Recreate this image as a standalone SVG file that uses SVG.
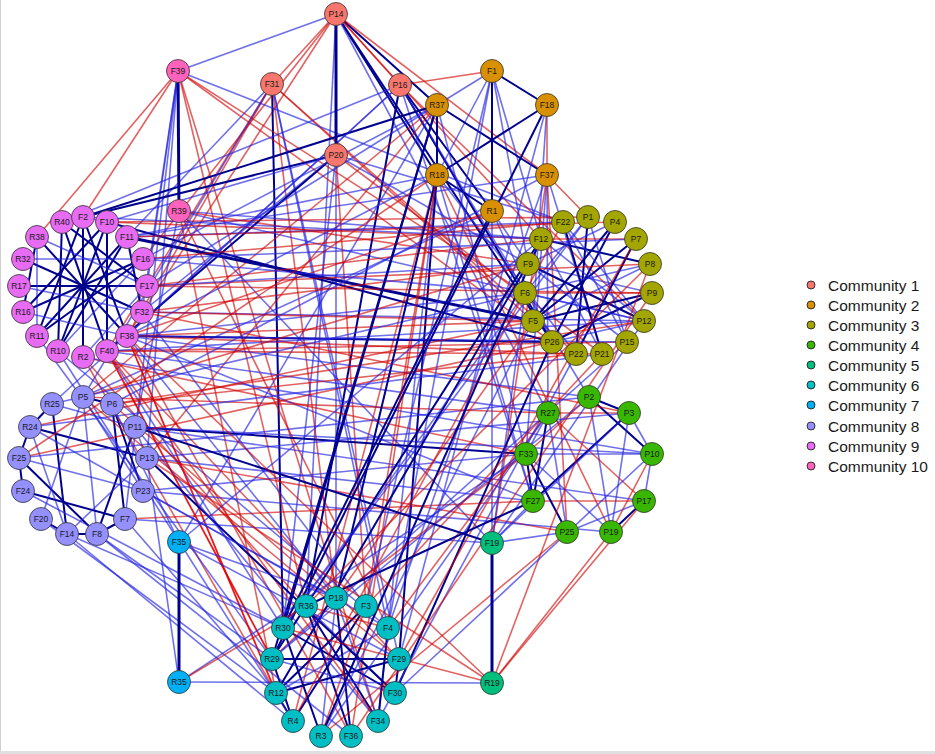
<svg xmlns="http://www.w3.org/2000/svg" width="935" height="754" viewBox="0 0 935 754">
<style>
.b{stroke:#2424e0;stroke-opacity:.65;stroke-width:1.6;fill:none}
.n{stroke:#00008f;stroke-width:2;fill:none}
.nt{stroke:#00008f;stroke-width:3;fill:none}
.r{stroke:#d00000;stroke-opacity:.62;stroke-width:1.6;fill:none}
.rr{stroke:#e80000;stroke-opacity:.9;stroke-width:1.8;fill:none}
.nd circle{stroke:#333;stroke-width:.8}
.nd text{font-family:"Liberation Sans",Arial,sans-serif;font-size:8.5px;fill:#1a1a1a;text-anchor:middle;dominant-baseline:central}
.c1 circle{fill:#F8766D}.c2 circle{fill:#D89000}.c3 circle{fill:#A3A500}.c4 circle{fill:#39B600}.c5 circle{fill:#00BF7D}
.c6 circle{fill:#00BFC4}.c7 circle{fill:#00B0F6}.c8 circle{fill:#9590FF}.c9 circle{fill:#E76BF3}.c10 circle{fill:#FF62BC}
.lg circle{stroke:#222;stroke-width:.9}
.lg text{font-family:"Liberation Sans",Arial,sans-serif;font-size:15.5px;fill:#1a1a1a}
</style>
<rect width="935" height="754" fill="#fff"/>
<line x1="0.5" y1="0" x2="0.5" y2="754" stroke="#d0d0d0"/>
<line x1="0" y1="752.5" x2="935" y2="752.5" stroke="#e0e0e0" stroke-width="3"/>
<g id="edges">
<line class="b" x1="336" y1="14" x2="178" y2="71"/>
<line class="r" x1="336" y1="14" x2="272" y2="84"/>
<line class="r" x1="336" y1="14" x2="400" y2="85"/>
<line class="n" x1="336" y1="14" x2="437" y2="105"/>
<line class="n" x1="336" y1="14" x2="437" y2="175"/>
<line class="r" x1="336" y1="14" x2="547" y2="175"/>
<line class="r" x1="336" y1="14" x2="127" y2="336"/>
<line class="r" x1="336" y1="14" x2="143" y2="259"/>
<line class="n" x1="336" y1="14" x2="552" y2="342"/>
<line class="r" x1="336" y1="14" x2="541" y2="239"/>
<line class="b" x1="336" y1="14" x2="548" y2="413"/>
<line class="b" x1="336" y1="14" x2="336" y2="598"/>
<line class="b" x1="336" y1="14" x2="306" y2="606"/>
<line class="b" x1="272" y1="84" x2="127" y2="237"/>
<line class="r" x1="272" y1="84" x2="127" y2="336"/>
<line class="r" x1="272" y1="84" x2="107" y2="351"/>
<line class="n" x1="272" y1="84" x2="283" y2="628"/>
<line class="r" x1="272" y1="84" x2="336" y2="598"/>
<line class="r" x1="272" y1="84" x2="533" y2="321"/>
<line class="r" x1="272" y1="84" x2="576" y2="354"/>
<line class="b" x1="272" y1="84" x2="399" y2="659"/>
<line class="b" x1="272" y1="84" x2="388" y2="628"/>
<line class="b" x1="178" y1="71" x2="147" y2="286"/>
<line class="b" x1="178" y1="71" x2="142" y2="312"/>
<line class="r" x1="178" y1="71" x2="83" y2="217"/>
<line class="r" x1="178" y1="71" x2="552" y2="342"/>
<line class="r" x1="178" y1="71" x2="525" y2="293"/>
<line class="b" x1="178" y1="71" x2="125" y2="519"/>
<line class="b" x1="178" y1="71" x2="147" y2="458"/>
<line class="r" x1="178" y1="71" x2="306" y2="606"/>
<line class="b" x1="178" y1="71" x2="563" y2="222"/>
<line class="r" x1="178" y1="71" x2="378" y2="721"/>
<line class="b" x1="179" y1="211" x2="541" y2="239"/>
<line class="r" x1="179" y1="211" x2="528" y2="264"/>
<line class="b" x1="179" y1="211" x2="644" y2="321"/>
<line class="r" x1="179" y1="211" x2="276" y2="693"/>
<line class="b" x1="179" y1="211" x2="492" y2="543"/>
<line class="r" x1="179" y1="211" x2="388" y2="628"/>
<line class="b" x1="179" y1="211" x2="135" y2="427"/>
<line class="r" x1="400" y1="85" x2="492" y2="71"/>
<line class="n" x1="400" y1="85" x2="492" y2="211"/>
<line class="n" x1="400" y1="85" x2="552" y2="342"/>
<line class="b" x1="400" y1="85" x2="533" y2="501"/>
<line class="b" x1="400" y1="85" x2="589" y2="397"/>
<line class="n" x1="400" y1="85" x2="306" y2="606"/>
<line class="b" x1="400" y1="85" x2="127" y2="336"/>
<line class="b" x1="400" y1="85" x2="62" y2="222"/>
<line class="r" x1="400" y1="85" x2="644" y2="321"/>
<line class="b" x1="336" y1="155" x2="142" y2="312"/>
<line class="n" x1="336" y1="155" x2="107" y2="351"/>
<line class="b" x1="336" y1="155" x2="283" y2="628"/>
<line class="r" x1="336" y1="155" x2="366" y2="606"/>
<line class="b" x1="336" y1="155" x2="563" y2="222"/>
<line class="b" x1="336" y1="155" x2="528" y2="264"/>
<line class="r" x1="336" y1="155" x2="602" y2="354"/>
<line class="b" x1="492" y1="71" x2="437" y2="105"/>
<line class="n" x1="492" y1="71" x2="547" y2="105"/>
<line class="n" x1="492" y1="71" x2="492" y2="211"/>
<line class="b" x1="492" y1="71" x2="541" y2="239"/>
<line class="b" x1="492" y1="71" x2="528" y2="264"/>
<line class="b" x1="492" y1="71" x2="437" y2="175"/>
<line class="n" x1="547" y1="105" x2="437" y2="175"/>
<line class="r" x1="547" y1="105" x2="547" y2="175"/>
<line class="b" x1="547" y1="105" x2="533" y2="321"/>
<line class="n" x1="437" y1="105" x2="437" y2="175"/>
<line class="n" x1="437" y1="105" x2="547" y2="175"/>
<line class="b" x1="437" y1="105" x2="147" y2="286"/>
<line class="b" x1="437" y1="105" x2="143" y2="259"/>
<line class="r" x1="437" y1="105" x2="147" y2="458"/>
<line class="b" x1="437" y1="105" x2="179" y2="542"/>
<line class="n" x1="437" y1="105" x2="272" y2="659"/>
<line class="b" x1="437" y1="105" x2="526" y2="454"/>
<line class="r" x1="437" y1="105" x2="83" y2="397"/>
<line class="n" x1="437" y1="175" x2="492" y2="211"/>
<line class="b" x1="437" y1="175" x2="127" y2="336"/>
<line class="b" x1="437" y1="175" x2="533" y2="501"/>
<line class="b" x1="437" y1="175" x2="576" y2="354"/>
<line class="r" x1="437" y1="175" x2="351" y2="736"/>
<line class="r" x1="437" y1="175" x2="611" y2="532"/>
<line class="b" x1="437" y1="175" x2="378" y2="721"/>
<line class="r" x1="437" y1="175" x2="293" y2="721"/>
<line class="n" x1="437" y1="175" x2="399" y2="659"/>
<line class="r" x1="547" y1="175" x2="588" y2="217"/>
<line class="b" x1="547" y1="175" x2="127" y2="237"/>
<line class="b" x1="547" y1="175" x2="548" y2="413"/>
<line class="b" x1="547" y1="175" x2="602" y2="354"/>
<line class="r" x1="547" y1="175" x2="567" y2="532"/>
<line class="b" x1="547" y1="175" x2="526" y2="454"/>
<line class="b" x1="492" y1="211" x2="552" y2="342"/>
<line class="b" x1="492" y1="211" x2="528" y2="264"/>
<line class="b" x1="492" y1="211" x2="83" y2="397"/>
<line class="r" x1="492" y1="211" x2="127" y2="336"/>
<line class="nt" x1="127" y1="237" x2="533" y2="321"/>
<line class="n" x1="107" y1="222" x2="552" y2="342"/>
<line class="n" x1="62" y1="222" x2="107" y2="351"/>
<line class="n" x1="83" y1="217" x2="83" y2="357"/>
<line class="n" x1="107" y1="222" x2="58" y2="351"/>
<line class="n" x1="127" y1="237" x2="37" y2="336"/>
<line class="n" x1="143" y1="259" x2="23" y2="312"/>
<line class="n" x1="147" y1="286" x2="19" y2="286"/>
<line class="n" x1="142" y1="312" x2="23" y2="259"/>
<line class="n" x1="127" y1="336" x2="37" y2="237"/>
<line class="n" x1="62" y1="222" x2="58" y2="351"/>
<line class="b" x1="37" y1="237" x2="37" y2="336"/>
<line class="n" x1="107" y1="222" x2="107" y2="351"/>
<line class="n" x1="83" y1="217" x2="127" y2="336"/>
<line class="n" x1="62" y1="222" x2="147" y2="286"/>
<line class="n" x1="83" y1="217" x2="37" y2="336"/>
<line class="n" x1="107" y1="222" x2="23" y2="312"/>
<line class="n" x1="127" y1="237" x2="58" y2="351"/>
<line class="b" x1="37" y1="237" x2="147" y2="286"/>
<line class="b" x1="19" y1="286" x2="142" y2="312"/>
<line class="b" x1="23" y1="312" x2="127" y2="336"/>
<line class="n" x1="143" y1="259" x2="37" y2="336"/>
<line class="b" x1="23" y1="259" x2="143" y2="259"/>
<line class="b" x1="62" y1="222" x2="83" y2="217"/>
<line class="b" x1="83" y1="217" x2="107" y2="222"/>
<line class="n" x1="37" y1="237" x2="23" y2="312"/>
<line class="n" x1="127" y1="237" x2="142" y2="312"/>
<line class="b" x1="83" y1="357" x2="147" y2="286"/>
<line class="b" x1="58" y1="351" x2="143" y2="259"/>
<line class="n" x1="541" y1="239" x2="650" y2="264"/>
<line class="b" x1="528" y1="264" x2="652" y2="293"/>
<line class="r" x1="525" y1="293" x2="652" y2="293"/>
<line class="n" x1="533" y1="321" x2="636" y2="239"/>
<line class="n" x1="552" y1="342" x2="615" y2="222"/>
<line class="b" x1="563" y1="222" x2="627" y2="342"/>
<line class="n" x1="588" y1="217" x2="576" y2="354"/>
<line class="b" x1="541" y1="239" x2="602" y2="354"/>
<line class="n" x1="528" y1="264" x2="644" y2="321"/>
<line class="b" x1="650" y1="264" x2="533" y2="321"/>
<line class="n" x1="652" y1="293" x2="552" y2="342"/>
<line class="b" x1="644" y1="321" x2="525" y2="293"/>
<line class="b" x1="627" y1="342" x2="528" y2="264"/>
<line class="b" x1="563" y1="222" x2="644" y2="321"/>
<line class="b" x1="588" y1="217" x2="627" y2="342"/>
<line class="n" x1="636" y1="239" x2="576" y2="354"/>
<line class="b" x1="650" y1="264" x2="525" y2="293"/>
<line class="b" x1="541" y1="239" x2="644" y2="321"/>
<line class="n" x1="563" y1="222" x2="602" y2="354"/>
<line class="b" x1="615" y1="222" x2="528" y2="264"/>
<line class="r" x1="541" y1="239" x2="636" y2="239"/>
<line class="n" x1="615" y1="222" x2="533" y2="321"/>
<line class="b" x1="588" y1="217" x2="525" y2="293"/>
<line class="n" x1="652" y1="293" x2="533" y2="321"/>
<line class="b" x1="644" y1="321" x2="552" y2="342"/>
<line class="r" x1="548" y1="413" x2="629" y2="413"/>
<line class="n" x1="589" y1="397" x2="629" y2="413"/>
<line class="n" x1="589" y1="397" x2="652" y2="454"/>
<line class="b" x1="629" y1="413" x2="652" y2="454"/>
<line class="n" x1="629" y1="413" x2="533" y2="501"/>
<line class="b" x1="526" y1="454" x2="652" y2="454"/>
<line class="n" x1="526" y1="454" x2="533" y2="501"/>
<line class="n" x1="548" y1="413" x2="533" y2="501"/>
<line class="b" x1="548" y1="413" x2="567" y2="532"/>
<line class="b" x1="567" y1="532" x2="644" y2="501"/>
<line class="n" x1="611" y1="532" x2="644" y2="501"/>
<line class="b" x1="644" y1="501" x2="652" y2="454"/>
<line class="b" x1="629" y1="413" x2="611" y2="532"/>
<line class="b" x1="589" y1="397" x2="611" y2="532"/>
<line class="r" x1="548" y1="413" x2="644" y2="501"/>
<line class="b" x1="526" y1="454" x2="611" y2="532"/>
<line class="r" x1="533" y1="501" x2="644" y2="501"/>
<line class="n" x1="526" y1="454" x2="567" y2="532"/>
<line class="r" x1="652" y1="454" x2="611" y2="532"/>
<line class="r" x1="589" y1="397" x2="526" y2="454"/>
<line class="b" x1="548" y1="413" x2="526" y2="454"/>
<line class="n" x1="272" y1="659" x2="399" y2="659"/>
<line class="n" x1="283" y1="628" x2="395" y2="693"/>
<line class="n" x1="306" y1="606" x2="378" y2="721"/>
<line class="b" x1="336" y1="598" x2="321" y2="736"/>
<line class="n" x1="366" y1="606" x2="293" y2="721"/>
<line class="n" x1="306" y1="606" x2="351" y2="736"/>
<line class="n" x1="283" y1="628" x2="321" y2="736"/>
<line class="b" x1="388" y1="628" x2="276" y2="693"/>
<line class="n" x1="399" y1="659" x2="276" y2="693"/>
<line class="b" x1="272" y1="659" x2="395" y2="693"/>
<line class="n" x1="336" y1="598" x2="351" y2="736"/>
<line class="n" x1="366" y1="606" x2="276" y2="693"/>
<line class="b" x1="306" y1="606" x2="395" y2="693"/>
<line class="n" x1="388" y1="628" x2="378" y2="721"/>
<line class="n" x1="272" y1="659" x2="293" y2="721"/>
<line class="b" x1="336" y1="598" x2="378" y2="721"/>
<line class="r" x1="306" y1="606" x2="388" y2="628"/>
<line class="r" x1="366" y1="606" x2="321" y2="736"/>
<line class="n" x1="399" y1="659" x2="395" y2="693"/>
<line class="n" x1="276" y1="693" x2="293" y2="721"/>
<line class="r" x1="336" y1="598" x2="272" y2="659"/>
<line class="b" x1="179" y1="682" x2="492" y2="683"/>
<line class="n" x1="52" y1="404" x2="67" y2="534"/>
<line class="b" x1="83" y1="397" x2="97" y2="534"/>
<line class="n" x1="112" y1="404" x2="125" y2="519"/>
<line class="n" x1="30" y1="427" x2="147" y2="458"/>
<line class="n" x1="135" y1="427" x2="97" y2="534"/>
<line class="b" x1="19" y1="458" x2="143" y2="491"/>
<line class="n" x1="19" y1="458" x2="97" y2="534"/>
<line class="n" x1="23" y1="491" x2="125" y2="519"/>
<line class="n" x1="30" y1="427" x2="19" y2="458"/>
<line class="n" x1="19" y1="458" x2="23" y2="491"/>
<line class="n" x1="112" y1="404" x2="143" y2="491"/>
<line class="b" x1="83" y1="397" x2="143" y2="491"/>
<line class="n" x1="52" y1="404" x2="30" y2="427"/>
<line class="n" x1="41" y1="519" x2="67" y2="534"/>
<line class="n" x1="67" y1="534" x2="97" y2="534"/>
<line class="n" x1="125" y1="519" x2="97" y2="534"/>
<line class="b" x1="135" y1="427" x2="147" y2="458"/>
<line class="b" x1="41" y1="519" x2="83" y2="397"/>
<line class="b" x1="52" y1="404" x2="135" y2="427"/>
<line class="b" x1="30" y1="427" x2="67" y2="534"/>
<line class="n" x1="83" y1="397" x2="112" y2="404"/>
<line class="b" x1="147" y1="458" x2="67" y2="534"/>
<line class="n" x1="127" y1="336" x2="552" y2="342"/>
<line class="r" x1="127" y1="336" x2="533" y2="321"/>
<line class="b" x1="127" y1="336" x2="525" y2="293"/>
<line class="r" x1="127" y1="336" x2="576" y2="354"/>
<line class="r" x1="142" y1="312" x2="528" y2="264"/>
<line class="b" x1="142" y1="312" x2="644" y2="321"/>
<line class="r" x1="147" y1="286" x2="541" y2="239"/>
<line class="r" x1="147" y1="286" x2="650" y2="264"/>
<line class="r" x1="143" y1="259" x2="563" y2="222"/>
<line class="b" x1="143" y1="259" x2="636" y2="239"/>
<line class="r" x1="107" y1="351" x2="602" y2="354"/>
<line class="r" x1="107" y1="351" x2="627" y2="342"/>
<line class="r" x1="83" y1="357" x2="526" y2="454"/>
<line class="b" x1="107" y1="351" x2="548" y2="413"/>
<line class="b" x1="127" y1="336" x2="589" y2="397"/>
<line class="r" x1="142" y1="312" x2="629" y2="413"/>
<line class="b" x1="147" y1="286" x2="528" y2="264"/>
<line class="r" x1="107" y1="222" x2="541" y2="239"/>
<line class="r" x1="107" y1="222" x2="588" y2="217"/>
<line class="b" x1="127" y1="237" x2="563" y2="222"/>
<line class="b" x1="143" y1="259" x2="525" y2="293"/>
<line class="r" x1="147" y1="286" x2="652" y2="293"/>
<line class="r" x1="142" y1="312" x2="533" y2="321"/>
<line class="b" x1="127" y1="336" x2="627" y2="342"/>
<line class="b" x1="107" y1="351" x2="644" y2="321"/>
<line class="b" x1="127" y1="336" x2="533" y2="501"/>
<line class="b" x1="83" y1="357" x2="652" y2="454"/>
<line class="r" x1="127" y1="237" x2="615" y2="222"/>
<line class="b" x1="83" y1="217" x2="541" y2="239"/>
<line class="b" x1="107" y1="351" x2="283" y2="628"/>
<line class="r" x1="83" y1="357" x2="306" y2="606"/>
<line class="r" x1="107" y1="351" x2="399" y2="659"/>
<line class="b" x1="127" y1="336" x2="336" y2="598"/>
<line class="r" x1="83" y1="357" x2="276" y2="693"/>
<line class="b" x1="58" y1="351" x2="388" y2="628"/>
<line class="r" x1="127" y1="336" x2="351" y2="736"/>
<line class="b" x1="142" y1="312" x2="366" y2="606"/>
<line class="r" x1="107" y1="351" x2="378" y2="721"/>
<line class="b" x1="37" y1="336" x2="272" y2="659"/>
<line class="b" x1="58" y1="351" x2="293" y2="721"/>
<line class="rr" x1="127" y1="336" x2="276" y2="693"/>
<line class="rr" x1="107" y1="351" x2="272" y2="659"/>
<line class="r" x1="37" y1="237" x2="178" y2="71"/>
<line class="n" x1="83" y1="217" x2="336" y2="155"/>
<line class="b" x1="107" y1="222" x2="336" y2="155"/>
<line class="n" x1="83" y1="217" x2="437" y2="105"/>
<line class="b" x1="127" y1="237" x2="437" y2="175"/>
<line class="r" x1="83" y1="397" x2="528" y2="264"/>
<line class="r" x1="112" y1="404" x2="644" y2="321"/>
<line class="n" x1="135" y1="427" x2="526" y2="454"/>
<line class="b" x1="147" y1="458" x2="533" y2="501"/>
<line class="b" x1="135" y1="427" x2="652" y2="454"/>
<line class="r" x1="30" y1="427" x2="533" y2="321"/>
<line class="r" x1="19" y1="458" x2="552" y2="342"/>
<line class="b" x1="52" y1="404" x2="525" y2="293"/>
<line class="b" x1="143" y1="491" x2="526" y2="454"/>
<line class="b" x1="125" y1="519" x2="492" y2="543"/>
<line class="r" x1="147" y1="458" x2="567" y2="532"/>
<line class="b" x1="135" y1="427" x2="644" y2="501"/>
<line class="b" x1="19" y1="458" x2="589" y2="397"/>
<line class="r" x1="112" y1="404" x2="576" y2="354"/>
<line class="r" x1="83" y1="397" x2="548" y2="413"/>
<line class="b" x1="147" y1="458" x2="629" y2="413"/>
<line class="r" x1="125" y1="519" x2="533" y2="501"/>
<line class="b" x1="143" y1="491" x2="611" y2="532"/>
<line class="b" x1="30" y1="427" x2="602" y2="354"/>
<line class="b" x1="67" y1="534" x2="283" y2="628"/>
<line class="b" x1="97" y1="534" x2="272" y2="659"/>
<line class="b" x1="125" y1="519" x2="276" y2="693"/>
<line class="b" x1="143" y1="491" x2="336" y2="598"/>
<line class="b" x1="23" y1="491" x2="283" y2="628"/>
<line class="b" x1="41" y1="519" x2="276" y2="693"/>
<line class="b" x1="97" y1="534" x2="351" y2="736"/>
<line class="n" x1="147" y1="458" x2="395" y2="693"/>
<line class="b" x1="135" y1="427" x2="378" y2="721"/>
<line class="b" x1="67" y1="534" x2="293" y2="721"/>
<line class="r" x1="112" y1="404" x2="336" y2="598"/>
<line class="r" x1="83" y1="397" x2="399" y2="659"/>
<line class="b" x1="30" y1="427" x2="388" y2="628"/>
<line class="b" x1="83" y1="397" x2="272" y2="84"/>
<line class="b" x1="52" y1="404" x2="400" y2="85"/>
<line class="b" x1="112" y1="404" x2="547" y2="175"/>
<line class="r" x1="19" y1="458" x2="437" y2="175"/>
<line class="n" x1="437" y1="175" x2="336" y2="598"/>
<line class="n" x1="437" y1="105" x2="283" y2="628"/>
<line class="b" x1="492" y1="71" x2="388" y2="628"/>
<line class="b" x1="547" y1="105" x2="399" y2="659"/>
<line class="r" x1="547" y1="175" x2="492" y2="543"/>
<line class="b" x1="492" y1="211" x2="492" y2="683"/>
<line class="n" x1="547" y1="105" x2="272" y2="659"/>
<line class="n" x1="492" y1="211" x2="283" y2="628"/>
<line class="b" x1="547" y1="175" x2="388" y2="628"/>
<line class="b" x1="492" y1="71" x2="366" y2="606"/>
<line class="r" x1="437" y1="175" x2="366" y2="606"/>
<line class="n" x1="541" y1="239" x2="272" y2="659"/>
<line class="n" x1="528" y1="264" x2="276" y2="693"/>
<line class="b" x1="525" y1="293" x2="283" y2="628"/>
<line class="b" x1="533" y1="321" x2="321" y2="736"/>
<line class="n" x1="552" y1="342" x2="395" y2="693"/>
<line class="b" x1="576" y1="354" x2="378" y2="721"/>
<line class="b" x1="644" y1="321" x2="492" y2="543"/>
<line class="r" x1="650" y1="264" x2="306" y2="606"/>
<line class="r" x1="563" y1="222" x2="293" y2="721"/>
<line class="b" x1="588" y1="217" x2="283" y2="628"/>
<line class="r" x1="636" y1="239" x2="399" y2="659"/>
<line class="r" x1="652" y1="293" x2="351" y2="736"/>
<line class="b" x1="525" y1="293" x2="492" y2="543"/>
<line class="r" x1="533" y1="321" x2="336" y2="598"/>
<line class="b" x1="627" y1="342" x2="272" y2="659"/>
<line class="r" x1="602" y1="354" x2="366" y2="606"/>
<line class="n" x1="541" y1="239" x2="321" y2="736"/>
<line class="r" x1="650" y1="264" x2="492" y2="683"/>
<line class="b" x1="533" y1="501" x2="492" y2="543"/>
<line class="b" x1="526" y1="454" x2="179" y2="682"/>
<line class="b" x1="567" y1="532" x2="492" y2="543"/>
<line class="r" x1="548" y1="413" x2="388" y2="628"/>
<line class="r" x1="644" y1="501" x2="492" y2="683"/>
<line class="r" x1="611" y1="532" x2="492" y2="683"/>
<line class="b" x1="629" y1="413" x2="492" y2="543"/>
<line class="r" x1="526" y1="454" x2="336" y2="598"/>
<line class="n" x1="533" y1="501" x2="306" y2="606"/>
<line class="b" x1="652" y1="454" x2="395" y2="693"/>
<line class="b" x1="548" y1="413" x2="321" y2="736"/>
<line class="b" x1="589" y1="397" x2="272" y2="659"/>
<line class="r" x1="567" y1="532" x2="321" y2="736"/>
<line class="b" x1="179" y1="542" x2="399" y2="659"/>
<line class="b" x1="179" y1="542" x2="336" y2="598"/>
<line class="b" x1="179" y1="682" x2="147" y2="458"/>
<line class="r" x1="179" y1="682" x2="306" y2="606"/>
<line class="n" x1="135" y1="427" x2="492" y2="543"/>
<line class="b" x1="179" y1="542" x2="541" y2="239"/>
<line class="r" x1="492" y1="683" x2="127" y2="336"/>
<line class="r" x1="492" y1="683" x2="283" y2="628"/>
<line class="r" x1="492" y1="683" x2="147" y2="458"/>
<line class="b" x1="179" y1="542" x2="112" y2="404"/>
<line class="nt" x1="336" y1="14" x2="336" y2="155"/>
<line class="nt" x1="178" y1="71" x2="179" y2="211"/>
<line class="nt" x1="179" y1="542" x2="179" y2="682"/>
<line class="nt" x1="492" y1="543" x2="492" y2="683"/>
</g>
<g id="nodes">
<g id="P14" class="nd c1"><circle cx="336" cy="14" r="11.5"/><text x="336" y="14">P14</text></g>
<g id="F31" class="nd c1"><circle cx="272" cy="84" r="11.5"/><text x="272" y="84">F31</text></g>
<g id="P16" class="nd c1"><circle cx="400" cy="85" r="11.5"/><text x="400" y="85">P16</text></g>
<g id="P20" class="nd c1"><circle cx="336" cy="155" r="11.5"/><text x="336" y="155">P20</text></g>
<g id="F1" class="nd c2"><circle cx="492" cy="71" r="11.5"/><text x="492" y="71">F1</text></g>
<g id="R37" class="nd c2"><circle cx="437" cy="105" r="11.5"/><text x="437" y="105">R37</text></g>
<g id="F18" class="nd c2"><circle cx="547" cy="105" r="11.5"/><text x="547" y="105">F18</text></g>
<g id="R18" class="nd c2"><circle cx="437" cy="175" r="11.5"/><text x="437" y="175">R18</text></g>
<g id="F37" class="nd c2"><circle cx="547" cy="175" r="11.5"/><text x="547" y="175">F37</text></g>
<g id="R1" class="nd c2"><circle cx="492" cy="211" r="11.5"/><text x="492" y="211">R1</text></g>
<g id="F22" class="nd c3"><circle cx="563" cy="222" r="11.5"/><text x="563" y="222">F22</text></g>
<g id="P1" class="nd c3"><circle cx="588" cy="217" r="11.5"/><text x="588" y="217">P1</text></g>
<g id="P4" class="nd c3"><circle cx="615" cy="222" r="11.5"/><text x="615" y="222">P4</text></g>
<g id="P7" class="nd c3"><circle cx="636" cy="239" r="11.5"/><text x="636" y="239">P7</text></g>
<g id="P8" class="nd c3"><circle cx="650" cy="264" r="11.5"/><text x="650" y="264">P8</text></g>
<g id="P9" class="nd c3"><circle cx="652" cy="293" r="11.5"/><text x="652" y="293">P9</text></g>
<g id="P12" class="nd c3"><circle cx="644" cy="321" r="11.5"/><text x="644" y="321">P12</text></g>
<g id="P15" class="nd c3"><circle cx="627" cy="342" r="11.5"/><text x="627" y="342">P15</text></g>
<g id="P21" class="nd c3"><circle cx="602" cy="354" r="11.5"/><text x="602" y="354">P21</text></g>
<g id="P22" class="nd c3"><circle cx="576" cy="354" r="11.5"/><text x="576" y="354">P22</text></g>
<g id="P26" class="nd c3"><circle cx="552" cy="342" r="11.5"/><text x="552" y="342">P26</text></g>
<g id="F5" class="nd c3"><circle cx="533" cy="321" r="11.5"/><text x="533" y="321">F5</text></g>
<g id="F6" class="nd c3"><circle cx="525" cy="293" r="11.5"/><text x="525" y="293">F6</text></g>
<g id="F9" class="nd c3"><circle cx="528" cy="264" r="11.5"/><text x="528" y="264">F9</text></g>
<g id="F12" class="nd c3"><circle cx="541" cy="239" r="11.5"/><text x="541" y="239">F12</text></g>
<g id="P2" class="nd c4"><circle cx="589" cy="397" r="11.5"/><text x="589" y="397">P2</text></g>
<g id="R27" class="nd c4"><circle cx="548" cy="413" r="11.5"/><text x="548" y="413">R27</text></g>
<g id="P3" class="nd c4"><circle cx="629" cy="413" r="11.5"/><text x="629" y="413">P3</text></g>
<g id="F33" class="nd c4"><circle cx="526" cy="454" r="11.5"/><text x="526" y="454">F33</text></g>
<g id="P10" class="nd c4"><circle cx="652" cy="454" r="11.5"/><text x="652" y="454">P10</text></g>
<g id="F27" class="nd c4"><circle cx="533" cy="501" r="11.5"/><text x="533" y="501">F27</text></g>
<g id="P17" class="nd c4"><circle cx="644" cy="501" r="11.5"/><text x="644" y="501">P17</text></g>
<g id="P25" class="nd c4"><circle cx="567" cy="532" r="11.5"/><text x="567" y="532">P25</text></g>
<g id="P19" class="nd c4"><circle cx="611" cy="532" r="11.5"/><text x="611" y="532">P19</text></g>
<g id="F19" class="nd c5"><circle cx="492" cy="543" r="11.5"/><text x="492" y="543">F19</text></g>
<g id="R19" class="nd c5"><circle cx="492" cy="683" r="11.5"/><text x="492" y="683">R19</text></g>
<g id="R36" class="nd c6"><circle cx="306" cy="606" r="11.5"/><text x="306" y="606">R36</text></g>
<g id="P18" class="nd c6"><circle cx="336" cy="598" r="11.5"/><text x="336" y="598">P18</text></g>
<g id="F3" class="nd c6"><circle cx="366" cy="606" r="11.5"/><text x="366" y="606">F3</text></g>
<g id="R30" class="nd c6"><circle cx="283" cy="628" r="11.5"/><text x="283" y="628">R30</text></g>
<g id="F4" class="nd c6"><circle cx="388" cy="628" r="11.5"/><text x="388" y="628">F4</text></g>
<g id="R29" class="nd c6"><circle cx="272" cy="659" r="11.5"/><text x="272" y="659">R29</text></g>
<g id="F29" class="nd c6"><circle cx="399" cy="659" r="11.5"/><text x="399" y="659">F29</text></g>
<g id="R12" class="nd c6"><circle cx="276" cy="693" r="11.5"/><text x="276" y="693">R12</text></g>
<g id="F30" class="nd c6"><circle cx="395" cy="693" r="11.5"/><text x="395" y="693">F30</text></g>
<g id="R4" class="nd c6"><circle cx="293" cy="721" r="11.5"/><text x="293" y="721">R4</text></g>
<g id="F34" class="nd c6"><circle cx="378" cy="721" r="11.5"/><text x="378" y="721">F34</text></g>
<g id="R3" class="nd c6"><circle cx="321" cy="736" r="11.5"/><text x="321" y="736">R3</text></g>
<g id="F36" class="nd c6"><circle cx="351" cy="736" r="11.5"/><text x="351" y="736">F36</text></g>
<g id="F35" class="nd c7"><circle cx="179" cy="542" r="11.5"/><text x="179" y="542">F35</text></g>
<g id="R35" class="nd c7"><circle cx="179" cy="682" r="11.5"/><text x="179" y="682">R35</text></g>
<g id="R25" class="nd c8"><circle cx="52" cy="404" r="11.5"/><text x="52" y="404">R25</text></g>
<g id="P5" class="nd c8"><circle cx="83" cy="397" r="11.5"/><text x="83" y="397">P5</text></g>
<g id="P6" class="nd c8"><circle cx="112" cy="404" r="11.5"/><text x="112" y="404">P6</text></g>
<g id="R24" class="nd c8"><circle cx="30" cy="427" r="11.5"/><text x="30" y="427">R24</text></g>
<g id="P11" class="nd c8"><circle cx="135" cy="427" r="11.5"/><text x="135" y="427">P11</text></g>
<g id="F25" class="nd c8"><circle cx="19" cy="458" r="11.5"/><text x="19" y="458">F25</text></g>
<g id="P13" class="nd c8"><circle cx="147" cy="458" r="11.5"/><text x="147" y="458">P13</text></g>
<g id="F24" class="nd c8"><circle cx="23" cy="491" r="11.5"/><text x="23" y="491">F24</text></g>
<g id="P23" class="nd c8"><circle cx="143" cy="491" r="11.5"/><text x="143" y="491">P23</text></g>
<g id="F20" class="nd c8"><circle cx="41" cy="519" r="11.5"/><text x="41" y="519">F20</text></g>
<g id="F7" class="nd c8"><circle cx="125" cy="519" r="11.5"/><text x="125" y="519">F7</text></g>
<g id="F14" class="nd c8"><circle cx="67" cy="534" r="11.5"/><text x="67" y="534">F14</text></g>
<g id="F8" class="nd c8"><circle cx="97" cy="534" r="11.5"/><text x="97" y="534">F8</text></g>
<g id="R40" class="nd c9"><circle cx="62" cy="222" r="11.5"/><text x="62" y="222">R40</text></g>
<g id="F2" class="nd c9"><circle cx="83" cy="217" r="11.5"/><text x="83" y="217">F2</text></g>
<g id="F10" class="nd c9"><circle cx="107" cy="222" r="11.5"/><text x="107" y="222">F10</text></g>
<g id="F11" class="nd c9"><circle cx="127" cy="237" r="11.5"/><text x="127" y="237">F11</text></g>
<g id="F16" class="nd c9"><circle cx="143" cy="259" r="11.5"/><text x="143" y="259">F16</text></g>
<g id="F17" class="nd c9"><circle cx="147" cy="286" r="11.5"/><text x="147" y="286">F17</text></g>
<g id="F32" class="nd c9"><circle cx="142" cy="312" r="11.5"/><text x="142" y="312">F32</text></g>
<g id="F38" class="nd c9"><circle cx="127" cy="336" r="11.5"/><text x="127" y="336">F38</text></g>
<g id="F40" class="nd c9"><circle cx="107" cy="351" r="11.5"/><text x="107" y="351">F40</text></g>
<g id="R2" class="nd c9"><circle cx="83" cy="357" r="11.5"/><text x="83" y="357">R2</text></g>
<g id="R10" class="nd c9"><circle cx="58" cy="351" r="11.5"/><text x="58" y="351">R10</text></g>
<g id="R11" class="nd c9"><circle cx="37" cy="336" r="11.5"/><text x="37" y="336">R11</text></g>
<g id="R16" class="nd c9"><circle cx="23" cy="312" r="11.5"/><text x="23" y="312">R16</text></g>
<g id="R17" class="nd c9"><circle cx="19" cy="286" r="11.5"/><text x="19" y="286">R17</text></g>
<g id="R32" class="nd c9"><circle cx="23" cy="259" r="11.5"/><text x="23" y="259">R32</text></g>
<g id="R38" class="nd c9"><circle cx="37" cy="237" r="11.5"/><text x="37" y="237">R38</text></g>
<g id="F39" class="nd c10"><circle cx="178" cy="71" r="11.5"/><text x="178" y="71">F39</text></g>
<g id="R39" class="nd c10"><circle cx="179" cy="211" r="11.5"/><text x="179" y="211">R39</text></g>
</g>
<g id="legend" class="lg">
<g class="c1"><circle cx="811" cy="285" r="4"/><text x="828" y="290.5">Community 1</text></g>
<g class="c2"><circle cx="811" cy="305" r="4"/><text x="828" y="310.5">Community 2</text></g>
<g class="c3"><circle cx="811" cy="325" r="4"/><text x="828" y="330.5">Community 3</text></g>
<g class="c4"><circle cx="811" cy="345" r="4"/><text x="828" y="350.5">Community 4</text></g>
<g class="c5"><circle cx="811" cy="365" r="4"/><text x="828" y="370.5">Community 5</text></g>
<g class="c6"><circle cx="811" cy="385" r="4"/><text x="828" y="390.5">Community 6</text></g>
<g class="c7"><circle cx="811" cy="405" r="4"/><text x="828" y="410.5">Community 7</text></g>
<g class="c8"><circle cx="811" cy="426" r="4"/><text x="828" y="431.5">Community 8</text></g>
<g class="c9"><circle cx="811" cy="446" r="4"/><text x="828" y="451.5">Community 9</text></g>
<g class="c10"><circle cx="811" cy="466" r="4"/><text x="828" y="471.5">Community 10</text></g>
</g>
</svg>
